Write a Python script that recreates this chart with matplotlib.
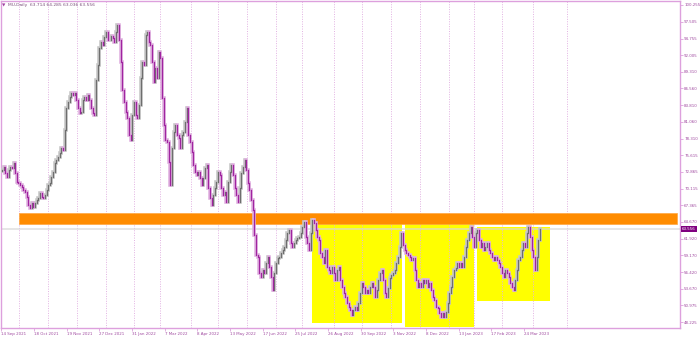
import matplotlib.pyplot as plt
import numpy as np
from matplotlib.patches import Rectangle
import matplotlib.transforms as mtransforms

# MU daily closes, split by stretch of the chart
closes_sep_dec21 = [73.2, 73.7, 72.7, 72.0, 73.2, 73.7, 73.5, 74.3, 72.7, 71.2,
                    71.0, 70.7, 70.4, 69.9, 69.6, 68.8, 67.4, 66.9, 67.8, 67.1,
                    67.8, 68.3, 68.6, 69.4, 68.8, 68.6, 69.1, 69.9, 70.7, 71.0,
                    72.0, 72.8, 74.3, 74.8, 75.3, 76.0, 76.8, 76.5]
closes_dec21_feb22 = [79.7, 83.4, 84.3, 85.2, 85.8, 85.5, 85.8, 84.7, 83.4, 82.5,
                      82.7, 84.7, 85.2, 84.7, 85.5, 84.7, 83.4, 82.5, 82.2, 87.9,
                      90.4, 93.2, 94.2, 93.7, 95.0, 95.8, 94.5, 94.5, 95.2, 94.8,
                      94.2, 95.8, 97.0, 94.5, 90.9, 86.3, 84.3, 82.7, 81.7, 78.9]
closes_feb_jun22 = [78.1, 82.2, 84.3, 82.2, 81.7, 83.9, 88.3, 90.9, 90.4, 95.3,
                    95.8, 94.2, 93.7, 90.9, 87.6, 89.9, 88.3, 92.5, 91.6, 85.0,
                    80.6, 78.1, 77.8, 74.5, 70.7, 76.8, 79.4, 80.6, 78.9, 78.4,
                    76.8, 78.9, 79.4, 81.1, 83.4, 78.9, 77.8, 76.1, 74.0, 72.8,
                    72.4, 72.8, 71.9, 70.7, 71.9, 73.5, 74.0, 70.2, 68.6, 67.4,
                    69.1, 70.2, 71.2, 72.8, 72.4, 70.2, 69.1, 69.6, 67.9, 71.2,
                    72.8, 74.0, 72.4, 70.2, 69.1, 67.9, 70.2, 72.7, 73.7, 74.8,
                    73.2, 71.1, 69.9, 68.3, 66.6]
closes_jun_nov22 = [62.5, 59.2, 58.9, 56.3, 55.6, 56.8, 56.3, 57.9, 58.9, 57.3,
                    55.6, 53.5, 56.3, 57.9, 58.7, 58.9, 59.6, 60.1, 60.5, 61.7,
                    62.8, 63.3, 61.2, 60.5, 61.2, 61.7, 62.0, 62.2, 62.8, 63.8,
                    64.7, 62.2, 61.2, 60.1, 62.8, 65.0, 64.5, 63.3, 62.2, 61.7,
                    59.6, 58.9, 57.9, 60.1, 57.3, 56.8, 56.3, 57.3, 56.3, 55.1,
                    56.8, 57.3, 55.1, 54.0, 53.0, 52.3, 51.4, 50.7, 50.2, 49.4,
                    50.2, 50.7, 50.2, 51.4, 53.0, 54.6, 54.0, 53.0, 53.5, 53.0,
                    54.0, 54.6, 54.0, 52.3, 53.5, 55.1, 56.3, 56.8, 55.1, 53.0,
                    52.3]
closes_nov22_mar23 = [53.8, 55.5, 55.9, 56.3, 56.8, 57.9, 58.9, 60.5, 62.8, 60.9,
                      60.1, 59.6, 59.2, 58.9, 58.4, 58.7, 56.8, 55.1, 54.0, 54.6,
                      54.0, 55.1, 54.6, 55.1, 54.0, 54.6, 53.5, 52.3, 51.9, 50.7,
                      50.5, 49.7, 49.1, 49.7, 49.1, 49.9, 51.4, 53.0, 54.0, 55.6,
                      56.8, 57.1, 57.9, 57.3, 57.9, 57.3, 58.9, 60.5, 61.7, 62.8,
                      63.8, 62.2, 60.5, 62.8, 63.3, 61.7, 60.5, 61.2, 60.1, 60.5,
                      61.2, 60.1, 59.6, 58.9, 58.4, 58.9, 58.4, 57.9, 57.3, 56.3,
                      55.6, 56.8, 56.3, 55.6, 54.6, 54.0, 53.5, 55.1, 56.8, 58.4,
                      58.9, 60.1, 61.2, 60.5, 62.8, 63.8, 62.2, 60.1, 58.9, 56.8,
                      58.9, 61.7, 63.556]
first_open = 73.0

date_labels = ['14 Sep 2021', '18 Oct 2021', '19 Nov 2021', '27 Dec 2021',
               '31 Jan 2022', '7 Mar 2022', '8 Apr 2022', '13 May 2022',
               '17 Jun 2022', '25 Jul 2022', '26 Aug 2022', '30 Sep 2022',
               '3 Nov 2022', '8 Dec 2022', '13 Jan 2023', '17 Feb 2023',
               '24 Mar 2023']
price_ticks = [100.255, 97.505, 94.755, 92.005, 89.310, 86.560, 83.810, 81.060,
               78.310, 75.615, 72.865, 70.115, 67.365, 64.670, 61.920, 59.170,
               56.420, 53.670, 50.975, 48.225]

# zones drawn on the chart (price levels)
resistance_zone = (64.32, 66.12)
yellow_boxes = [(187.9, 242.4, 48.07, 64.48),
                (244.2, 286.1, 47.41, 64.32),
                (287.9, 332.1, 51.68, 63.83)]
month_lines = [10.3, 27.9, 45.5, 63.0, 80.0, 95.8, 114.5, 130.9, 148.5, 166.1,
               181.8, 201.2, 218.2, 235.8, 253.3, 270.9, 286.1, 303.0, 321.8, 342.4]

closes = np.array(closes_sep_dec21 + closes_dec21_feb22 + closes_feb_jun22
                  + closes_jun_nov22 + closes_nov22_mar23)
opens = np.concatenate([[first_open], closes[:-1]])
x = np.arange(len(closes))
up = closes >= opens
lo = np.minimum(opens, closes)
hi = np.maximum(opens, closes)

frame = '#dda0dd'
txt = '#a04aa0'

fig = plt.figure(figsize=(7, 3.37), dpi=100)
ax = fig.add_axes([1 / 700, 9 / 337, 679 / 700, 327 / 337])
ax.set_xlim(-0.6, 410.9)
ax.set_ylim(47.25, 100.91)

# yellow boxes
for x0, x1, y0, y1 in yellow_boxes:
    ax.add_patch(Rectangle((x0, y0), x1 - x0, y1 - y0, facecolor='#ffff00',
                           edgecolor='none', zorder=1))
ax.plot([188.5, 242.4], [64.62, 64.62], color='#f07ef0', lw=1.4, zorder=1.2)

# monthly dotted grid
for g in month_lines:
    ax.axvline(g, color='#e2b2e2', ls=(0, (1, 1.5)), lw=0.7, zorder=1.5)

# orange resistance band
ax.add_patch(Rectangle((10.3, resistance_zone[0]), 409.1 - 10.3,
                       resistance_zone[1] - resistance_zone[0],
                       facecolor='#ff8c00', edgecolor='#ffa640', lw=0.5, zorder=2))

# last price line
ax.axhline(closes[-1], color='#d8d8d8', lw=1.3, alpha=0.7, zorder=2.2)

# candles: light halo + body
ax.vlines(x[up], lo[up], hi[up], color='#c8c8c8', lw=2.6,
          capstyle='projecting', zorder=3)
ax.vlines(x[~up], lo[~up], hi[~up], color='#e0b2e0', lw=2.6,
          capstyle='projecting', zorder=3)
ax.vlines(x[up], lo[up], hi[up], color='#6e6e6e', lw=0.9,
          capstyle='projecting', zorder=4)
ax.vlines(x[~up], lo[~up], hi[~up], color='#a024a0', lw=0.9,
          capstyle='projecting', zorder=4)

# axes styling
for s in ax.spines.values():
    s.set_color(frame)
    s.set_linewidth(1.0)
ax.yaxis.tick_right()
ax.set_yticks(price_ticks)
ax.set_yticklabels([f'{v:.3f}' for v in price_ticks])
ax.set_xticks(np.arange(len(date_labels)) * 19.79 - 0.3)
ax.set_xticklabels(date_labels, ha='left')
ax.tick_params(axis='both', length=2, width=0.6, color=frame,
               labelsize=2.9, labelcolor=txt, pad=1.0)

# last price tag on the axis
tr = mtransforms.blended_transform_factory(ax.transAxes, ax.transData)
ax.text(1.003, closes[-1], f'{closes[-1]:.3f}', transform=tr, fontsize=2.9,
        color='white', va='center', ha='left', zorder=6,
        bbox=dict(boxstyle='square,pad=0.25', facecolor='#800080', edgecolor='none'),
        clip_on=False)

# header
fig.text(0.003, 0.985, '\u25bc', fontsize=3.2, color='#a040a0', va='center')
fig.text(0.011, 0.985, 'MU,Daily  63.714 64.285 63.036 63.556', fontsize=3.2,
         color='#7a4f7a', va='center')

fig.savefig('out.png', dpi=100)
